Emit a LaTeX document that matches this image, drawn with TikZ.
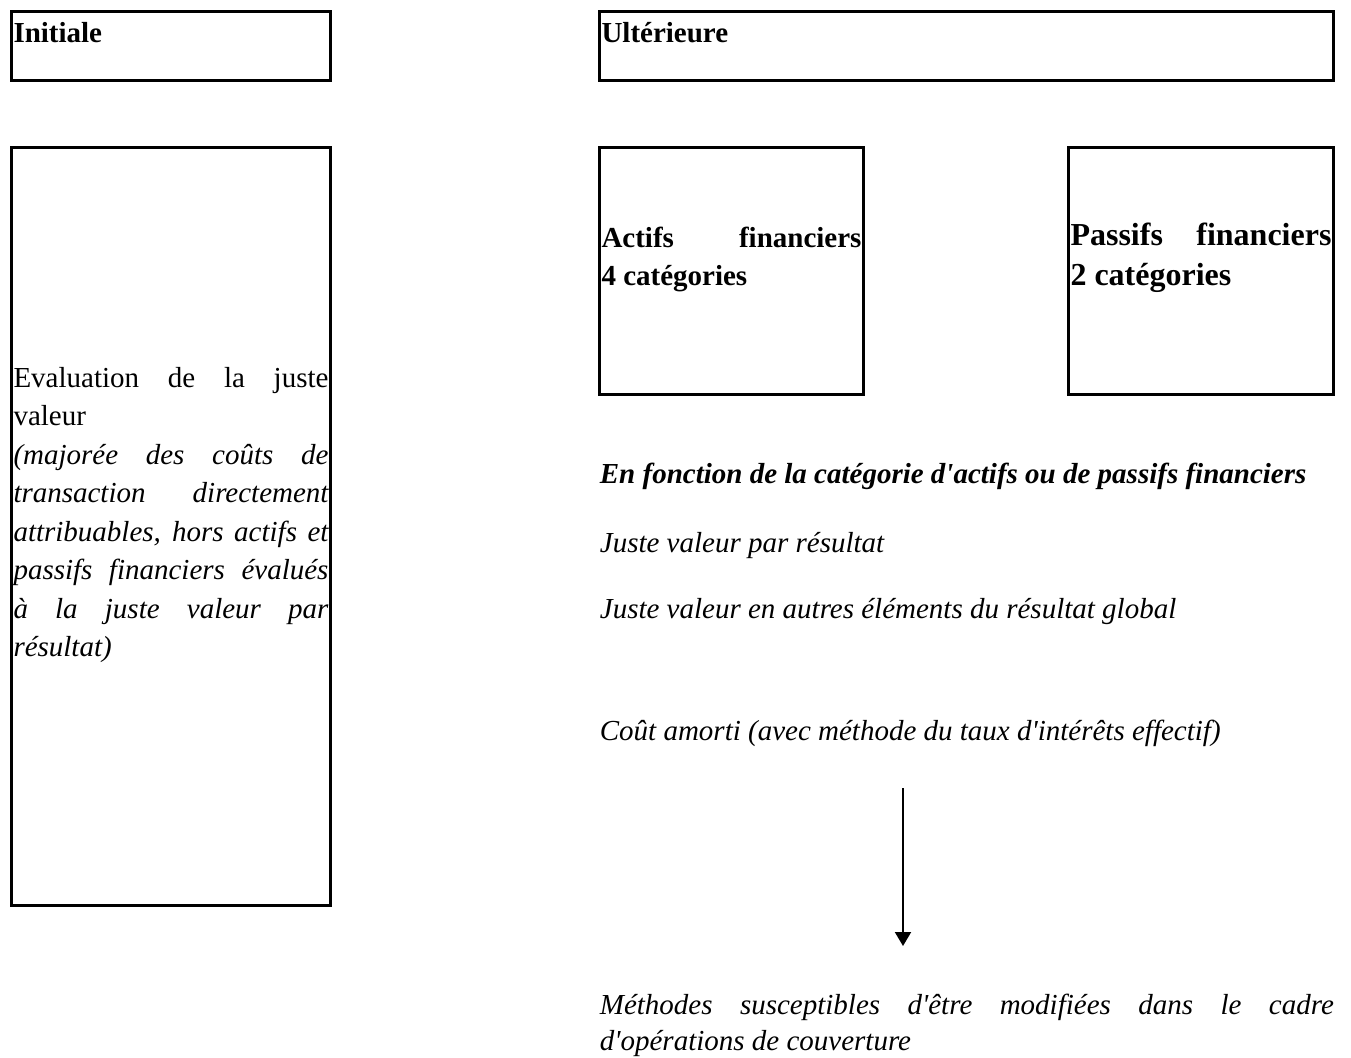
\documentclass[tikz,border=0pt]{standalone}
\usepackage{fontspec}
\defaultfontfeatures[\rmfamily]{}
\setmainfont{Liberation Serif}
\usetikzlibrary{positioning}
\usetikzlibrary{arrows.meta}

\begin{document}
\begin{tikzpicture}[x=0.5pt,y=-0.5pt,
	boite/.style={draw,line width=1.5pt,inner sep=1pt,outer sep=0pt,align=justify,font=\fontsize{14.5pt}{19.25pt}\selectfont},
	ligne/.style={anchor=base west,inner sep=0pt,font=\fontsize{14.5pt}{19.25pt}\selectfont\itshape}]
	\useasboundingbox (0,0) rectangle (1351,1057);
	\node[boite,anchor=north west,text width=157.5pt,text height=14.25pt,text depth=18.25pt] (initiale) at (11.5,11.5) {\textbf{Initiale}};
	\node[boite,right=134.5pt of initiale.north east,anchor=north west,text width=365pt,text height=14.25pt,text depth=18.25pt] (ulter) {\textbf{Ultérieure}};
	\node[boite,below=33.5pt of initiale.south west,anchor=north west,text width=157.5pt,text height=118.75pt,text depth=258.25pt] (evaluation) {Evaluation de la juste\linebreak valeur\\ \textit{(majorée des coûts de\linebreak transaction directement\linebreak attribuables, hors actifs et\linebreak passifs financiers évalués\linebreak à la juste valeur par\linebreak résultat)}};
	\node[boite,below=33.5pt of ulter.south west,anchor=north west,text width=130pt,text height=48.75pt,text depth=72.75pt] (actifs) {\textbf{Actifs financiers\linebreak 4 catégories}};
	\node[boite,below=33.5pt of ulter.south east,anchor=north east,text width=130.5pt,text height=47.75pt,text depth=73.75pt,font=\fontsize{16pt}{20pt}\selectfont] (passifs) {\textbf{Passifs financiers\linebreak 2 catégories}};
	\node[ligne,below=44.25pt of actifs.south west,anchor=base west] (enfonction) {\textbf{En fonction de la catégorie d'actifs ou de passifs financiers}};
	\node[ligne,below=34.5pt of enfonction.base west,anchor=base west] (jvresultat) {Juste valeur par résultat};
	\node[ligne,below=33pt of jvresultat.base west,anchor=base west] (jvglobal) {Juste valeur en autres éléments du résultat global};
	\node[ligne,below=61pt of jvglobal.base west,anchor=base west] (coutamorti) {Coût amorti (avec méthode du taux d'intérêts effectif)};
	\node[ligne,below=137pt of coutamorti.base west,anchor=base west,text width=367pt,align=justify,font=\fontsize{14.5pt}{18pt}\selectfont\itshape] (methodes) {Méthodes susceptibles d'être modifiées dans le cadre\linebreak d'opérations de couverture};
	\coordinate (fleche_haut) at (903,788);
	\coordinate (fleche_bas) at (903,946);
	\draw[-{Triangle[length=7pt,width=8pt]},line width=1pt] (fleche_haut) -- (fleche_bas);
\end{tikzpicture}
\end{document}
